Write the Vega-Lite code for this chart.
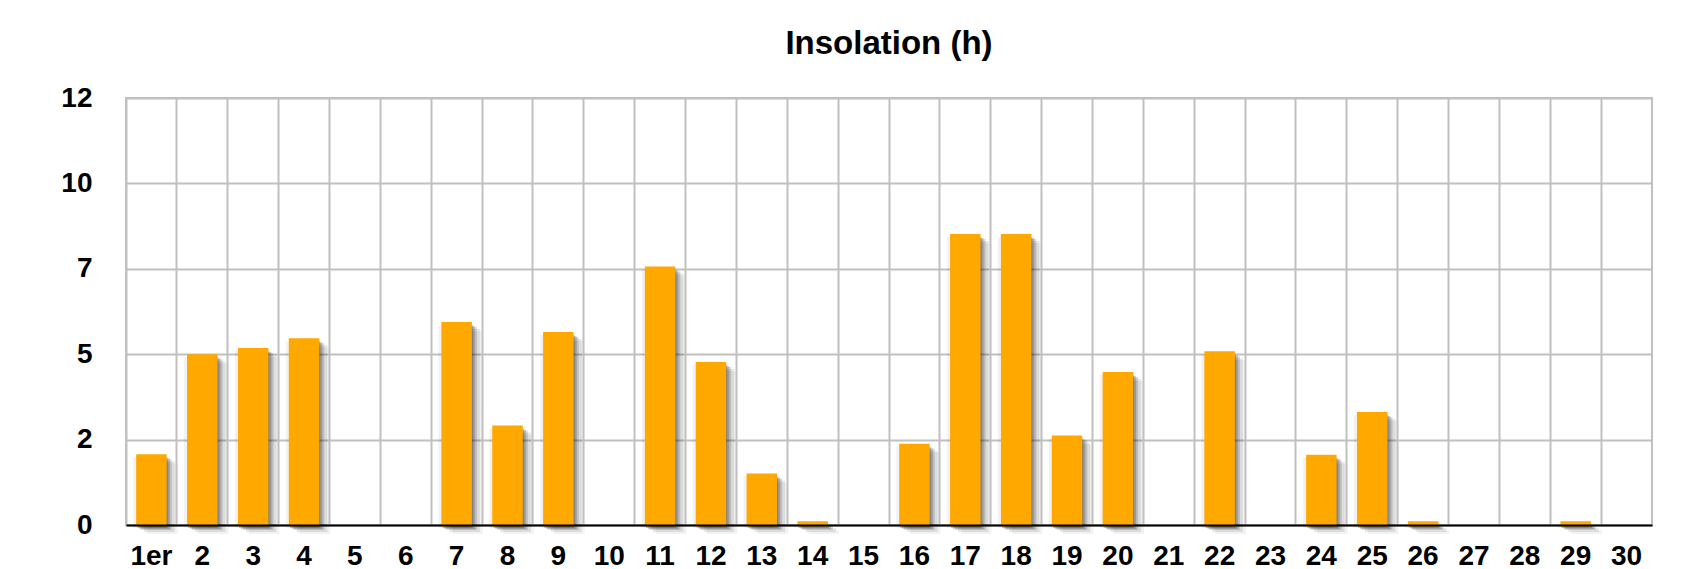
{
  "$schema": "https://vega.github.io/schema/vega-lite/v6.json",
  "autosize": {"type": "none"},
  "padding": {"left": 126, "top": 98, "right": 29, "bottom": 44},
  "width": 1526,
  "height": 427,
  "background": "white",
  "title": {
    "text": "Insolation (h)",
    "font": "Liberation Sans",
    "fontSize": 33,
    "fontWeight": "bold",
    "color": "black",
    "anchor": "middle",
    "baseline": "alphabetic",
    "offset": 42,
    "dy": 45
  },
  "config": {
    "view": {"stroke": "#c0c0c0", "strokeWidth": 2},
    "axis": {
      "labelFont": "Liberation Sans",
      "labelFontSize": 28,
      "labelFontWeight": "bold",
      "labelColor": "black",
      "gridColor": "#c0c0c0",
      "gridWidth": 2,
      "gridOpacity": 1
    }
  },
  "data": {
    "values": [
      {"day": "1er", "h": 2.07},
      {"day": "2", "h": 5.0},
      {"day": "3", "h": 5.18},
      {"day": "4", "h": 5.47},
      {"day": "5", "h": 0},
      {"day": "6", "h": 0},
      {"day": "7", "h": 5.94},
      {"day": "8", "h": 2.91},
      {"day": "9", "h": 5.65},
      {"day": "10", "h": 0},
      {"day": "11", "h": 7.57},
      {"day": "12", "h": 4.77},
      {"day": "13", "h": 1.51},
      {"day": "14", "h": 0.11},
      {"day": "15", "h": 0},
      {"day": "16", "h": 2.38},
      {"day": "17", "h": 8.52},
      {"day": "18", "h": 8.52},
      {"day": "19", "h": 2.62},
      {"day": "20", "h": 4.48},
      {"day": "21", "h": 0},
      {"day": "22", "h": 5.09},
      {"day": "23", "h": 0},
      {"day": "24", "h": 2.06},
      {"day": "25", "h": 3.31},
      {"day": "26", "h": 0.11},
      {"day": "27", "h": 0},
      {"day": "28", "h": 0},
      {"day": "29", "h": 0.11},
      {"day": "30", "h": 0}
    ]
  },
  "encoding": {
    "x": {
      "field": "day",
      "type": "ordinal",
      "sort": null,
      "scale": {"paddingInner": 0, "paddingOuter": 0},
      "axis": {
        "title": null,
        "labelAngle": 0,
        "ticks": false,
        "tickSize": 0,
        "labelPadding": 17,
        "grid": true,
        "bandPosition": 0,
        "domainColor": "black",
        "domainWidth": 2,
        "zindex": 1
      }
    },
    "y": {
      "field": "h",
      "type": "quantitative",
      "scale": {"domain": [0, 12.5], "nice": false},
      "axis": {
        "title": null,
        "values": [0, 2.5, 5, 7.5, 10, 12.5],
        "labelExpr": "floor(datum.value)",
        "ticks": false,
        "tickSize": 0,
        "domain": false,
        "labelPadding": 34,
        "grid": true
      }
    }
  },
  "layer": [
    {"mark": {"type": "bar", "width": {"band": 0.6}, "color": "black", "opacity": 0.05, "xOffset": -3, "yOffset": 3}},
    {"mark": {"type": "bar", "width": {"band": 0.6}, "color": "black", "opacity": 0.2, "xOffset": 1, "yOffset": 3}},
    {"mark": {"type": "bar", "width": {"band": 0.6}, "color": "black", "opacity": 0.18, "xOffset": 3, "yOffset": 4}},
    {"mark": {"type": "bar", "width": {"band": 0.6}, "color": "black", "opacity": 0.14, "xOffset": 5, "yOffset": 5}},
    {"mark": {"type": "bar", "width": {"band": 0.6}, "color": "black", "opacity": 0.09, "xOffset": 8, "yOffset": 7}},
    {"mark": {"type": "bar", "width": {"band": 0.6}, "color": "black", "opacity": 0.05, "xOffset": 11, "yOffset": 9}},
    {"mark": {"type": "bar", "width": {"band": 0.6}, "color": "#FFA800", "opacity": 1}}
  ]
}
